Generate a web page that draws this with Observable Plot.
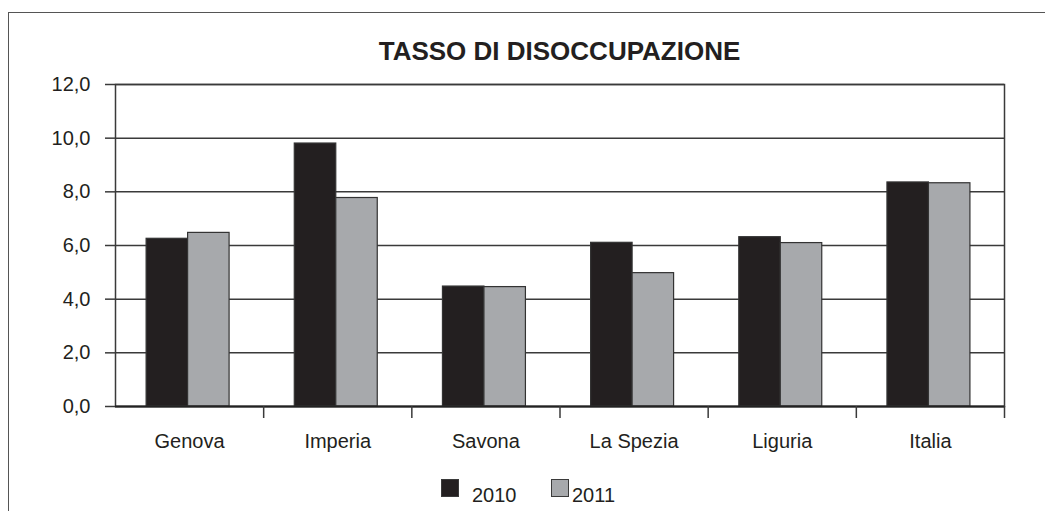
<!DOCTYPE html>
<html>
<head>
<meta charset="utf-8">
<script src="https://cdn.jsdelivr.net/npm/d3@7"></script>
<script src="https://cdn.jsdelivr.net/npm/@observablehq/plot@0.6"></script>
<style>
  html, body { margin: 0; padding: 0; background: #fff; overflow: hidden; }
  body { width: 1045px; height: 511px; position: relative; font-family: "Liberation Sans", Arial, sans-serif; color: #231f20; }
  #frame { position: absolute; left: 8px; top: 12px; width: 1050px; height: 520px; border-top: 1.5px solid #555; border-left: 1.5px solid #555; }
  #title { position: absolute; left: 115px; width: 889px; top: 37px; text-align: center; font-weight: bold; font-size: 26px; line-height: 1.117; }
  #chart { position: absolute; left: 0; top: 70px; }
  .leg { position: absolute; top: 483.5px; font-size: 20px; line-height: 23px; }
  .sw { position: absolute; top: 479px; width: 18px; height: 18px; box-sizing: border-box; }
</style>
</head>
<body>
<div id="frame"></div>
<div id="title"></div>
<div id="chart"></div>
<div id="legend"></div>
<script>
const title = "TASSO DI DISOCCUPAZIONE";
const categories = ["Genova", "Imperia", "Savona", "La Spezia", "Liguria", "Italia"];
const years = ["2010", "2011"];
const values2010 = [6.25, 9.8, 4.47, 6.1, 6.31, 8.35];
const values2011 = [6.47, 7.77, 4.45, 4.97, 6.09, 8.32];
const yTicks = [0, 2, 4, 6, 8, 10, 12];
const colors = ["#231f20", "#a7a9ac"];

document.getElementById("title").textContent = title;

const rows = [];
categories.forEach((c, i) => {
  rows.push({cat: c, i, year: years[0], value: values2010[i]});
  rows.push({cat: c, i, year: years[1], value: values2011[i]});
});

// bar group layout within each category band (fractions of the band)
const groupStart = 0.21, barW = 0.28;
const yearIdx = y => years.indexOf(y);

const fmt = d => d.toFixed(1).replace(".", ",");
const boundaries = d3.range(1, categories.length + 1);
const centers = d3.range(categories.length).map(i => i + 0.5);

const chart = Plot.plot({
  width: 1045,
  height: 400,
  marginLeft: 115,
  marginRight: 41,
  marginTop: 14,
  marginBottom: 64,
  style: {fontFamily: "'Liberation Sans', Arial, sans-serif", fontSize: "20px", color: "#231f20", background: "transparent"},
  x: {type: "linear", domain: [0, categories.length], axis: null, label: null},
  y: {domain: [0, 12], axis: null, label: null},
  color: {domain: years, range: colors},
  marks: [
    Plot.gridY(yTicks, {stroke: "#3a3a3a", strokeOpacity: 1, strokeWidth: 1.5}),
    Plot.rectY(rows, {
      x1: d => d.i + groupStart + yearIdx(d.year) * barW,
      x2: d => d.i + groupStart + (yearIdx(d.year) + 1) * barW,
      y1: 0,
      y2: "value",
      fill: "year",
      stroke: "#333",
      strokeWidth: 1.2
    }),
    Plot.frame({stroke: "#3a3a3a", strokeWidth: 1.5}),
    Plot.ruleY([0], {stroke: "#222", strokeWidth: 2}),
    Plot.axisY(yTicks, {tickSize: 10, tickPadding: 15, tickFormat: fmt, label: null, stroke: "#3a3a3a", strokeWidth: 1.5}),
    Plot.axisX(boundaries, {tickSize: 12, tickFormat: () => "", label: null, stroke: "#3a3a3a", strokeWidth: 1.5}),
    Plot.axisX(centers, {tickSize: 0, tickPadding: 27, label: null, tickFormat: d => categories[Math.floor(d)]})
  ]
});
document.getElementById("chart").appendChild(chart);

// legend
const legend = document.getElementById("legend");
const legendPos = [{sw: 441, tx: 472}, {sw: 551, tx: 572}];
years.forEach((y, k) => {
  const s = document.createElement("div");
  s.className = "sw";
  s.style.left = legendPos[k].sw + "px";
  s.style.background = colors[k];
  s.style.border = "1.5px solid #3a3a3a";
  legend.appendChild(s);
  const t = document.createElement("div");
  t.className = "leg";
  t.style.left = legendPos[k].tx + "px";
  t.textContent = y;
  legend.appendChild(t);
});
</script>
</body>
</html>
